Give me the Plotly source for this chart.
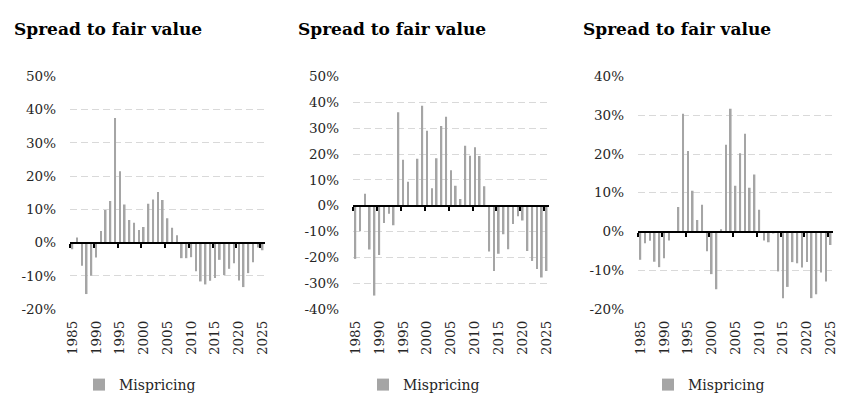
import plotly.graph_objects as go

# Data (percent)
years = list(range(1985, 2026))
tick_years = [1985, 1990, 1995, 2000, 2005, 2010, 2015, 2020, 2025]

mispricing_1 = [-2.0, 1.5, -7.0, -15.5, -10.0, -4.5, 3.5, 9.8, 12.5, 37.5,
                21.5, 11.5, 6.8, 6.0, 3.8, 4.7, 11.7, 13.0, 15.2, 12.8,
                7.3, 4.5, 2.2, -4.7, -4.7, -4.4, -8.6, -11.7, -12.6, -11.5,
                -10.7, -5.2, -9.8, -7.9, -6.2, -11.4, -13.4, -9.2, -5.9, -1.5,
                -2.3]
mispricing_2 = [-20.6, -9.9, 4.6, -17.0, -34.8, -19.1, -6.7, -3.1, -7.6, 36.2,
                17.8, 9.3, 0.0, 18.2, 38.7, 29.0, 6.7, 18.4, 30.8, 34.4,
                13.7, 7.7, 2.6, 23.2, 19.3, 22.6, 19.2, 7.5, -17.7, -25.3,
                -18.6, -11.1, -16.9, -7.1, -4.1, -5.7, -17.5, -21.4, -24.5, -27.8,
                -25.3]
mispricing_3 = [-7.3, -3.0, -2.4, -7.8, -9.2, -6.9, -2.3, 0.0, 6.3, 30.4,
                20.8, 10.5, 3.0, 6.9, -5.1, -11.0, -14.9, 0.6, 22.4, 31.7,
                11.8, 20.2, 25.2, 11.3, 14.7, 5.6, -2.3, -2.8, -0.3, -10.3,
                -17.2, -14.3, -7.9, -8.2, -9.3, -7.9, -17.2, -16.2, -10.6, -12.9,
                -3.5]

# y tick values and their labels for each panel
y_ticks_1 = [-20, -10, 0, 10, 20, 30, 40, 50]
y_labels_1 = ["-20%", "-10%", "0%", "10%", "20%", "30%", "40%", "50%"]
y_ticks_2 = [-40, -30, -20, -10, 0, 10, 20, 30, 40, 50]
y_labels_2 = ["-40%", "-30%", "-20%", "-10%", "0%", "10%", "20%", "30%", "40%", "50%"]
y_ticks_3 = [-20, -10, 0, 10, 20, 30, 40]
y_labels_3 = ["-20%", "-10%", "0%", "10%", "20%", "30%", "40%"]

series = [mispricing_1, mispricing_2, mispricing_3]
y_ticks = [y_ticks_1, y_ticks_2, y_ticks_3]
y_labels = [y_labels_1, y_labels_2, y_labels_3]
title_text = "Spread to fair value"

W, H = 858, 414
x_domains = [[70 / W, 265 / W], [353 / W, 549 / W], [638 / W, 833 / W]]
y_domain = [1 - 309 / H, 1 - 76.5 / H]
title_x = [12 / W, 296 / W, 581 / W]
legend_x = [140 / W, 424 / W, 709 / W]

BAR_COLOR = "#A5A5A5"
GRID_COLOR = "#D9D9D9"
FONT = "DejaVu Serif, Liberation Serif, serif"
TEXT_COLOR = "#262626"

fig = go.Figure()
layout = dict(
    width=W, height=H,
    margin=dict(l=0, r=0, t=0, b=0, autoexpand=False),
    paper_bgcolor="white", plot_bgcolor="white",
    font=dict(family=FONT, size=13.5, color=TEXT_COLOR),
    bargap=0.65,
    annotations=[],
)

for i, vals in enumerate(series):
    n = "" if i == 0 else str(i + 1)
    ax_x = "x" + n
    ax_y = "y" + n
    legend_name = "legend" + n

    fig.add_trace(go.Bar(
        x=years, y=vals, name="Mispricing",
        marker=dict(color=BAR_COLOR, line=dict(width=0)),
        xaxis=ax_x, yaxis=ax_y, legend=legend_name,
        hovertemplate="%{x}: %{y:.1f}%<extra></extra>",
    ))

    # invisible trace so the zero-line axis gets drawn
    fig.add_trace(go.Scatter(
        x=[years[0]], y=[0], mode="markers", marker=dict(opacity=0),
        xaxis="x" + str(i + 4), yaxis=ax_y, showlegend=False, hoverinfo="skip",
    ))

    y0, y1 = y_ticks[i][0], y_ticks[i][-1]
    zero_pos = y_domain[0] + (0 - y0) / (y1 - y0) * (y_domain[1] - y_domain[0])

    layout["xaxis" + n] = dict(
        domain=x_domains[i], anchor=ax_y, automargin=False,
        range=[1984.5, 2025.5],
        tickvals=tick_years, ticktext=[str(t) for t in tick_years],
        tickangle=-90, ticks="", showline=False, showgrid=False,
        zeroline=False, ticklabelstandoff=8,
        tickfont=dict(family=FONT, size=13.5, color=TEXT_COLOR),
    )
    layout["yaxis" + n] = dict(
        domain=y_domain, anchor=ax_x, automargin=False,
        range=[y0, y1], tickvals=y_ticks[i], ticktext=y_labels[i],
        showgrid=True, gridcolor=GRID_COLOR, gridwidth=1.3, griddash="7px,4px",
        zeroline=False, showline=False, ticks="",
        ticklabelstandoff=13,
        tickfont=dict(family=FONT, size=13.5, color=TEXT_COLOR),
    )
    # axis line across zero with the tick marks between categories
    layout["xaxis" + str(i + 4)] = dict(
        domain=x_domains[i], anchor="free", position=zero_pos,
        overlaying=ax_x, range=[1984.5, 2025.5], automargin=False,
        tickvals=[t - 0.5 for t in tick_years], ticks="outside",
        ticklen=4, tickwidth=2, tickcolor="black",
        showticklabels=False, showgrid=False, zeroline=False,
        showline=True, linecolor="black", linewidth=2,
    )
    layout[legend_name] = dict(
        x=legend_x[i], y=1 - 385 / H, xanchor="center", yanchor="middle",
        orientation="h", bgcolor="rgba(0,0,0,0)",
        font=dict(family=FONT, size=14, color=TEXT_COLOR),
        itemwidth=30,
    )
    layout["annotations"].append(dict(
        text="<b>" + title_text + "</b>", x=title_x[i], y=1 - 29 / H,
        xref="paper", yref="paper", xanchor="left", yanchor="middle",
        showarrow=False, font=dict(family=FONT, size=17, color="black"),
    ))

fig.update_layout(**layout)

# drop the browser's default 8px page margin so the chart sits at the corner
fig.write_html("out.html", config={"displayModeBar": False},
               post_script="document.body.style.margin = '0';")
